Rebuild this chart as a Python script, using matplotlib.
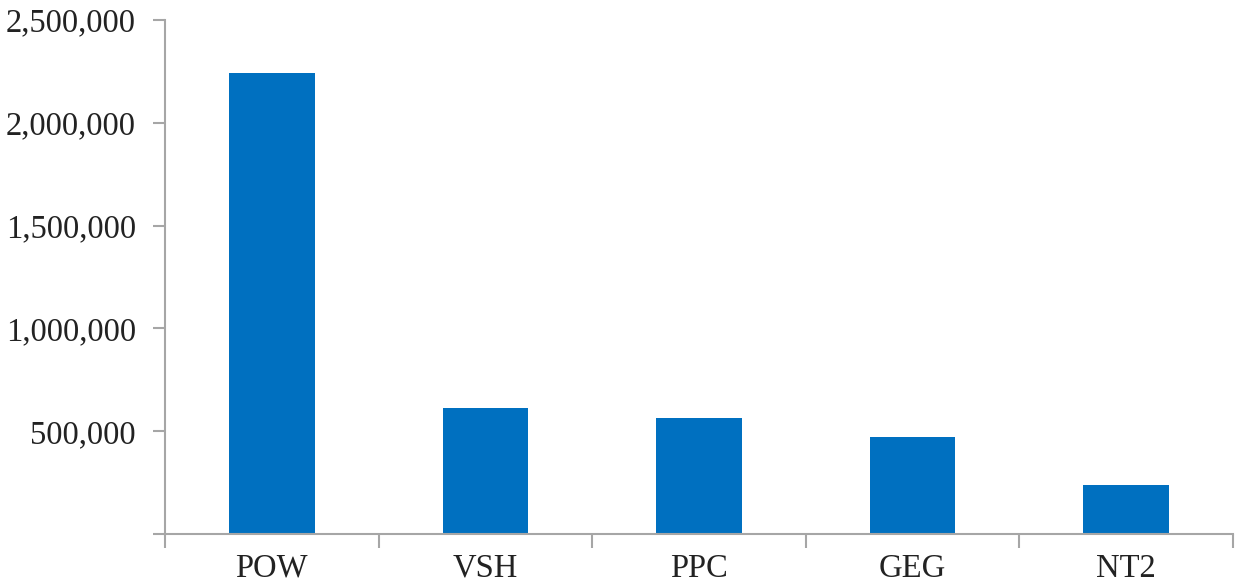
import numpy as np
import matplotlib
matplotlib.use("Agg")
import matplotlib.pyplot as plt
from matplotlib.ticker import FixedLocator, FuncFormatter

categories = ["POW", "VSH", "PPC", "GEG", "NT2"]
values = [2241000, 614000, 565000, 473000, 239000]
y_ticks = [0, 500000, 1000000, 1500000, 2000000, 2500000]

plt.rcParams['font.family'] = ['Liberation Serif', 'DejaVu Serif']

fig = plt.figure(figsize=(12.35, 5.85), dpi=100)
ax = fig.add_axes([165/1235, 1 - 534/585, 1068/1235, 514/585])

x = np.arange(len(categories))
ax.bar(x, values, width=0.4, color='#0070C0', zorder=2)

ax.set_xlim(-0.5, len(categories) - 0.5)
ax.set_ylim(0, 2500000)

axis_col = '#A6A6A6'
for s in ['top', 'right']:
    ax.spines[s].set_visible(False)
for s in ['left', 'bottom']:
    ax.spines[s].set_color(axis_col)
    ax.spines[s].set_linewidth(1.5)

ax.yaxis.set_major_locator(FixedLocator(y_ticks))
ax.yaxis.set_major_formatter(FuncFormatter(lambda v, p: '' if v == 0 else f'{int(v):,}'))
ax.tick_params(axis='y', length=9, width=1.5, color=axis_col, labelsize=23.5, pad=12, labelcolor='#222222')

# category labels centered, ticks at boundaries
ax.set_xticks(x)
ax.set_xticklabels(categories)
ax.tick_params(axis='x', which='major', length=0, labelsize=23.5, pad=14, labelcolor='#222222')
ax.set_xticks(np.arange(len(categories) + 1) - 0.5, minor=True)
ax.tick_params(axis='x', which='minor', length=10, width=1.5, color=axis_col)

fig.savefig('out.png', dpi=100)
